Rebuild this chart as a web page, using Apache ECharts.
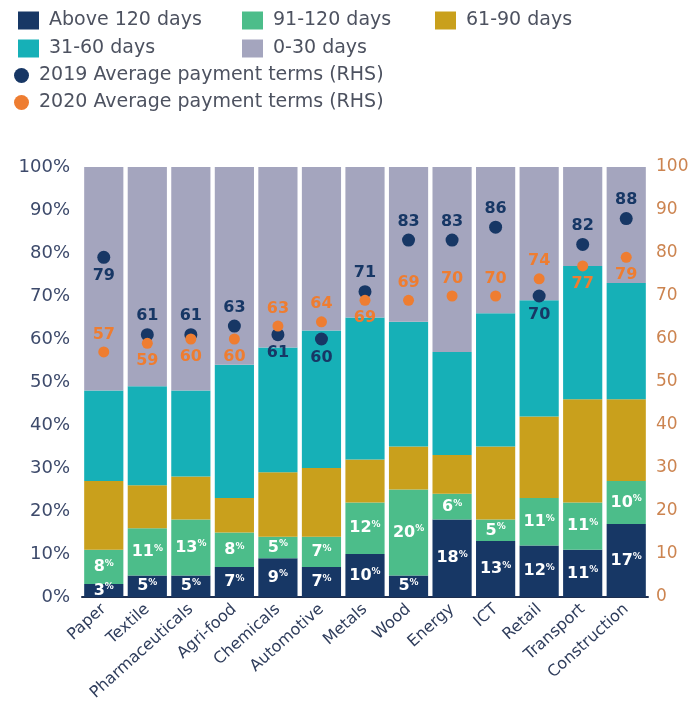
<!DOCTYPE html>
<html>
<head>
<meta charset="utf-8">
<script src="https://cdn.jsdelivr.net/npm/echarts@6/dist/echarts.min.js"></script>
<style>
  html, body { margin: 0; padding: 0; background: #fff; }
  #main { width: 693px; height: 706px; }
</style>
</head>
<body>
<div id="main"></div>
<script>
// sectors
var categories = ['Paper', 'Textile', 'Pharmaceuticals', 'Agri-food', 'Chemicals', 'Automotive',
    'Metals', 'Wood', 'Energy', 'ICT', 'Retail', 'Transport', 'Construction'];

// share of payments by delay (%)
var above120 = [3, 5, 5, 7, 9, 7, 10, 5, 18, 13, 12, 11, 17];
var d91to120 = [8, 11, 13, 8, 5, 7, 12, 20, 6, 5, 11, 11, 10];
var d61to90 = [16, 10, 10, 8, 15, 16, 10, 10, 9, 17, 19, 24, 19];
var d31to60 = [21, 23, 20, 31, 29, 32, 33, 29, 24, 31, 27, 31, 27];
var d0to30 = [52, 51, 52, 46, 42, 38, 35, 36, 43, 34, 31, 23, 27];

// average payment terms, days (RHS)
var terms2019 = [79, 61, 61, 63, 61, 60, 71, 83, 83, 86, 70, 82, 88];
var terms2020 = [57, 59, 60, 60, 63, 64, 69, 69, 70, 70, 74, 77, 79];

// where the value label of each dot sits
var lab2019 = ['bottom', 'top', 'top', 'top', 'bottom', 'bottom', 'top', 'top', 'top', 'top', 'bottom', 'top', 'top'];
var lab2020 = ['top', 'bottom', 'bottom', 'bottom', 'top', 'top', 'bottom', 'top', 'top', 'top', 'top', 'bottom', 'bottom'];

var font = 'DejaVu Sans';
var navy = '#173765';
var orange = '#ee7d31';

function pctLabel(p) {
    return '{n|' + p.value + '}{p|%}';
}

var barLabel = {
    show: true,
    position: 'inside',
    formatter: pctLabel,
    rich: {
        n: { color: '#fff', fontFamily: font, fontWeight: 'bold', fontSize: 16 },
        p: { color: '#fff', fontFamily: font, fontWeight: 'bold', fontSize: 9, padding: [0, 0, 7, 0] }
    }
};

function barSeries(name, data, color, withLabel) {
    return {
        name: name,
        type: 'bar',
        stack: 'share',
        barCategoryGap: '10%',
        data: data,
        itemStyle: { color: color },
        label: withLabel ? barLabel : { show: false },
        emphasis: { disabled: true }
    };
}

function dotSeries(name, data, pos, color, size) {
    return {
        name: name,
        type: 'scatter',
        yAxisIndex: 1,
        symbolSize: size,
        itemStyle: { color: color, opacity: 1 },
        data: data.map(function (v, i) {
            return { value: v, label: { position: pos[i] } };
        }),
        label: {
            show: true,
            color: color,
            fontFamily: font,
            fontWeight: 'bold',
            fontSize: 16,
            distance: 4
        },
        z: 5
    };
}

// legend layout: [name, left, top]
var legendSlots = [
    ['Above 120 days', 13, 6],
    ['91-120 days', 237, 6],
    ['61-90 days', 430, 6],
    ['31-60 days', 13, 34],
    ['0-30 days', 237, 34],
    ['2019 Average payment terms (RHS)', 9, 61],
    ['2020 Average payment terms (RHS)', 9, 88]
];

var legends = legendSlots.map(function (s) {
    var dot = s[0].indexOf('RHS') > 0;
    return {
        data: [s[0]],
        left: s[1],
        top: s[2],
        icon: dot ? 'circle' : 'rect',
        itemWidth: dot ? 15 : 21,
        itemHeight: dot ? 15 : 18,
        itemGap: 0,
        selectedMode: false,
        textStyle: { fontFamily: font, fontSize: 19, color: '#4d5260', padding: [0, 0, 0, 5] }
    };
});

var myChart = echarts.init(document.getElementById('main'));

var option = {
    animation: false,
    legend: legends,
    grid: { left: 82, right: 45, top: 167, bottom: 109 },
    xAxis: {
        type: 'category',
        data: categories,
        axisLine: { lineStyle: { color: '#1e2f4f', width: 2 } },
        axisTick: { show: false },
        axisLabel: {
            rotate: 42,
            interval: 0,
            color: '#2f3d5c',
            fontFamily: font,
            fontSize: 16,
            margin: 10
        }
    },
    yAxis: [
        {
            type: 'value',
            min: 0,
            max: 100,
            interval: 10,
            splitLine: { show: false },
            axisLabel: {
                formatter: '{value}%',
                color: '#3d4a6b',
                fontFamily: font,
                fontSize: 18,
                margin: 12
            }
        },
        {
            type: 'value',
            min: 0,
            max: 100,
            interval: 10,
            splitLine: { show: false },
            axisLabel: {
                color: '#cc8450',
                fontFamily: font,
                fontSize: 17,
                margin: 8
            }
        }
    ],
    series: [
        barSeries('Above 120 days', above120, navy, true),
        barSeries('91-120 days', d91to120, '#4cbd8a', true),
        barSeries('61-90 days', d61to90, '#c9a01c', false),
        barSeries('31-60 days', d31to60, '#16b0b7', false),
        barSeries('0-30 days', d0to30, '#a4a5be', false),
        dotSeries('2019 Average payment terms (RHS)', terms2019, lab2019, navy, 13),
        dotSeries('2020 Average payment terms (RHS)', terms2020, lab2020, orange, 11)
    ]
};

myChart.setOption(option);
</script>
</body>
</html>
